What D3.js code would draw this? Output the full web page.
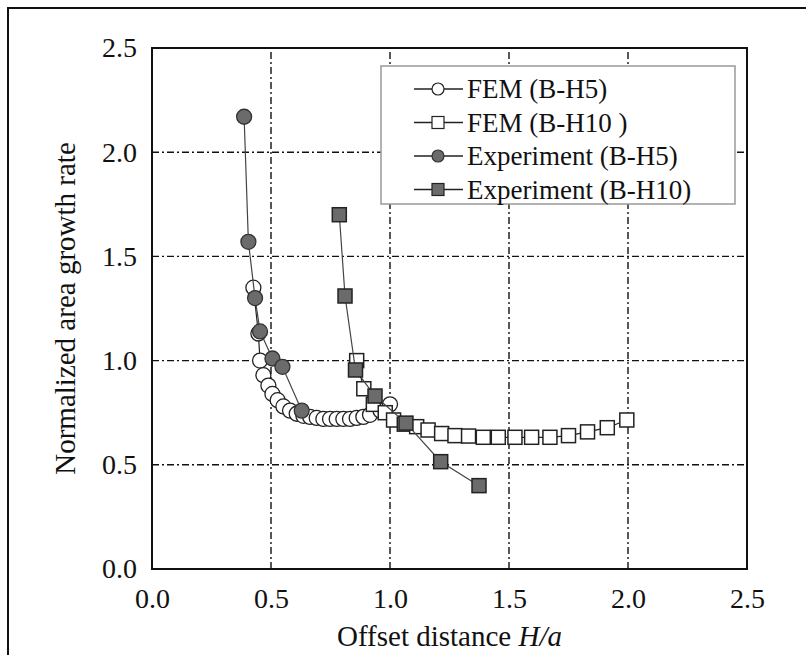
<!DOCTYPE html>
<html>
<head>
<meta charset="utf-8">
<script src="https://cdn.jsdelivr.net/npm/d3@7/dist/d3.min.js"></script>
<style>
body { margin:0; background:#fff; }
text { font-family: "Liberation Serif", "Times New Roman", serif; fill:#111; }
</style>
</head>
<body>
<div id="chart"></div>
<script>
// H/a, normalized area growth rate
var femH5 = [[0.426,1.35],[0.447,1.13],[0.454,1.00],[0.468,0.93],[0.489,0.88],[0.506,0.84],[0.528,0.81],
	[0.552,0.78],[0.58,0.76],[0.608,0.745],[0.636,0.735],[0.664,0.73],[0.692,0.725],[0.72,0.72],[0.748,0.72],
	[0.776,0.72],[0.804,0.72],[0.832,0.72],[0.86,0.725],[0.888,0.73],[0.916,0.74],[0.96,0.76],[1.0,0.79]];
var femH10 = [[0.86,1.0],[0.89,0.865],[0.93,0.79],[0.98,0.75],[1.015,0.715],[1.06,0.695],[1.112,0.683],
	[1.16,0.667],[1.217,0.65],[1.273,0.64],[1.33,0.638],[1.392,0.632],[1.455,0.632],[1.525,0.632],
	[1.595,0.632],[1.672,0.632],[1.75,0.64],[1.83,0.658],[1.913,0.678],[1.995,0.715]];
var expH5 = [[0.387,2.17],[0.405,1.57],[0.433,1.30],[0.454,1.14],[0.506,1.01],[0.548,0.97],[0.629,0.76]];
var expH10 = [[0.787,1.70],[0.811,1.31],[0.855,0.955],[0.937,0.83],[1.067,0.70],[1.213,0.515],[1.374,0.40]];

var xTicks = [0, 0.5, 1.0, 1.5, 2.0, 2.5];
var yTicks = [0, 0.5, 1.0, 1.5, 2.0, 2.5];
var legendLabels = ["FEM (B-H5)", "FEM (B-H10 )", "Experiment (B-H5)", "Experiment (B-H10)"];

var width = 806, height = 655;
var padding = {left:152, right:59, top:48, bottom:86};

var svg = d3.select("#chart").append("svg")
	.attr("width", width)
	.attr("height", height);

// outer frame
svg.append("rect")
	.attr("x", 8).attr("y", 8)
	.attr("width", 820).attr("height", 700)
	.attr("fill", "none")
	.attr("stroke", "#111")
	.attr("stroke-width", 2);

var x = d3.scaleLinear().domain([0, 2.5]).range([padding.left, width - padding.right]);
var y = d3.scaleLinear().domain([0, 2.5]).range([height - padding.bottom, padding.top]);

// grid
var grid = svg.append("g").attr("class", "grid");
grid.selectAll(".vgrid")
	.data(xTicks.slice(1, -1))
	.enter().append("line")
	.attr("x1", d => x(d)).attr("x2", d => x(d))
	.attr("y1", y(0)).attr("y2", y(2.5))
	.attr("stroke", "#111").attr("stroke-width", 1.4)
	.attr("stroke-dasharray", "7,3,2,3");
grid.selectAll(".hgrid")
	.data(yTicks.slice(1, -1))
	.enter().append("line")
	.attr("x1", x(0)).attr("x2", x(2.5))
	.attr("y1", d => y(d)).attr("y2", d => y(d))
	.attr("stroke", "#111").attr("stroke-width", 1.4)
	.attr("stroke-dasharray", "7,3,2,3");

// axes
var xAxis = d3.axisBottom(x).tickValues(xTicks).tickFormat(d3.format(".1f")).tickSize(0).tickPadding(19);
var yAxis = d3.axisLeft(y).tickValues(yTicks).tickFormat(d3.format(".1f")).tickSize(0).tickPadding(15);

var gx = svg.append("g")
	.attr("transform", "translate(0," + y(0) + ")")
	.call(xAxis);
var gy = svg.append("g")
	.attr("transform", "translate(" + x(0) + ",0)")
	.call(yAxis);
[gx, gy].forEach(function(g) {
	g.select(".domain").remove();
	g.selectAll("text")
		.style("font-family", "'Liberation Serif', 'Times New Roman', serif")
		.style("font-size", "28px")
		.attr("fill", "#111");
});

svg.append("rect")
	.attr("x", x(0)).attr("y", y(2.5))
	.attr("width", x(2.5) - x(0)).attr("height", y(0) - y(2.5))
	.attr("fill", "none").attr("stroke", "#111").attr("stroke-width", 2);

// axis titles
var xt = svg.append("text")
	.attr("x", (x(0) + x(2.5)) / 2)
	.attr("y", 646)
	.style("text-anchor", "middle")
	.style("font-size", "29px");
xt.append("tspan").text("Offset distance ");
xt.append("tspan").style("font-style", "italic").text("H/a");

svg.append("text")
	.attr("transform", "translate(75," + ((y(0) + y(2.5)) / 2) + ") rotate(-90)")
	.style("text-anchor", "middle")
	.style("font-size", "29px")
	.text("Normalized area growth rate");

var line = d3.line().x(d => x(d[0])).y(d => y(d[1]));

var series = [
	{data: femH5, shape: "circle", fill: "#fff", stroke: "#222", line: "#222"},
	{data: femH10, shape: "square", fill: "#fff", stroke: "#222", line: "#222"},
	{data: expH5, shape: "circle", fill: "#6b6b6b", stroke: "#333", line: "#444"},
	{data: expH10, shape: "square", fill: "#6b6b6b", stroke: "#222", line: "#444"}
];

function drawMarker(g, s, cx, cy) {
	if (s.shape == "circle") {
		g.append("circle")
			.attr("cx", cx).attr("cy", cy).attr("r", 7.5)
			.attr("fill", s.fill).attr("stroke", s.stroke).attr("stroke-width", 1.3);
	} else {
		g.append("rect")
			.attr("x", cx - 7).attr("y", cy - 7)
			.attr("width", 14).attr("height", 14)
			.attr("fill", s.fill).attr("stroke", s.stroke).attr("stroke-width", 1.5);
	}
}

series.forEach(function(s) {
	var g = svg.append("g");
	g.append("path")
		.attr("d", line(s.data))
		.attr("fill", "none")
		.attr("stroke", s.line)
		.attr("stroke-width", 1.2);
	s.data.forEach(function(d) {
		drawMarker(g, s, x(d[0]), y(d[1]));
	});
});

// legend
var legend = svg.append("g");
legend.append("rect")
	.attr("x", 381).attr("y", 66)
	.attr("width", 354).attr("height", 138)
	.attr("fill", "#fff")
	.attr("stroke", "#999").attr("stroke-width", 1.5);

legendLabels.forEach(function(label, i) {
	var cy = 89 + i * 33.5;
	var s = series[i];
	legend.append("line")
		.attr("x1", 414).attr("x2", 463)
		.attr("y1", cy).attr("y2", cy)
		.attr("stroke", "#222").attr("stroke-width", 1.5);
	if (s.shape == "circle") {
		legend.append("circle")
			.attr("cx", 438).attr("cy", cy).attr("r", 6)
			.attr("fill", s.fill).attr("stroke", s.stroke).attr("stroke-width", 1.2);
	} else {
		legend.append("rect")
			.attr("x", 432).attr("y", cy - 6)
			.attr("width", 12).attr("height", 12)
			.attr("fill", s.fill).attr("stroke", s.stroke).attr("stroke-width", 1.2);
	}
	legend.append("text")
		.attr("x", 467).attr("y", cy + 9)
		.style("font-size", "27px")
		.text(label);
});
</script>
</body>
</html>
